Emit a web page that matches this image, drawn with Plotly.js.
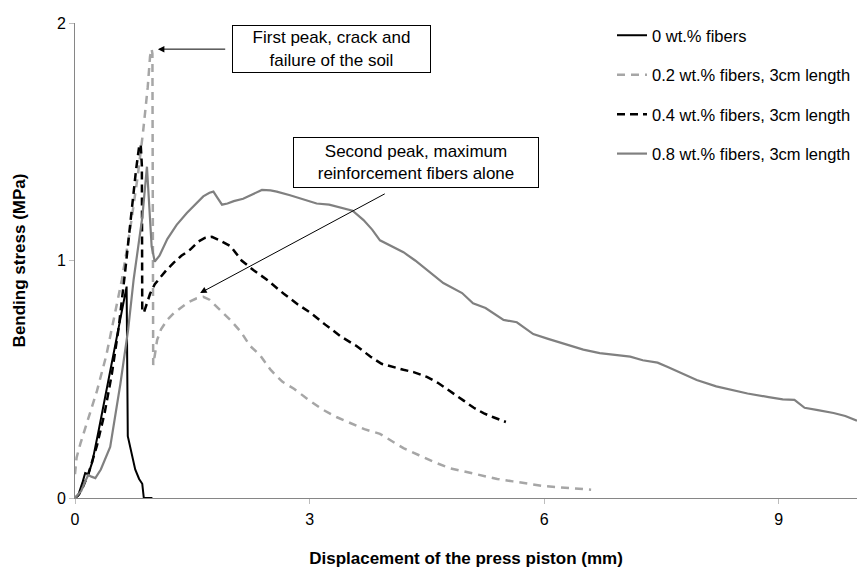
<!DOCTYPE html>
<html>
<head>
<meta charset="utf-8">
<script src="https://cdn.plot.ly/plotly-3.0.1.min.js"></script>
<style>html,body{margin:0;padding:0;background:#fff;}#chart{width:866px;height:569px;}</style>
</head>
<body>
<div id="chart"></div>
<script>
// ---- data ----
const seriesNames = ["0 wt.% fibers", "0.2 wt.% fibers, 3cm length", "0.4 wt.% fibers, 3cm length", "0.8 wt.% fibers, 3cm length"];

const x0 = [0, 0.04, 0.1, 0.13, 0.17, 0.22, 0.3, 0.4, 0.5, 0.6, 0.66, 0.675, 0.72, 0.77, 0.82, 0.86, 0.88, 0.99];
const y0 = [0, 0.01, 0.07, 0.105, 0.1, 0.15, 0.28, 0.45, 0.62, 0.79, 0.89, 0.26, 0.19, 0.12, 0.08, 0.06, 0, 0];

const x2 = [0, 0.02, 0.07, 0.15, 0.28, 0.4, 0.5, 0.6, 0.7, 0.8, 0.87, 0.93, 0.96, 0.98, 0.99, 1.0, 1.02, 1.05, 1.1, 1.18, 1.27, 1.35, 1.45, 1.55, 1.64, 1.72, 1.8, 1.9, 2.0, 2.12, 2.24, 2.37, 2.5, 2.65, 2.8, 3.0, 3.18, 3.35, 3.53, 3.7, 3.9, 4.05, 4.2, 4.4, 4.6, 4.8, 5.0, 5.2, 5.4, 5.6, 5.8, 6.0, 6.2, 6.4, 6.6];
const y2 = [0.1, 0.17, 0.23, 0.31, 0.45, 0.6, 0.76, 0.92, 1.12, 1.35, 1.54, 1.73, 1.86, 1.89, 1.87, 0.56, 0.6, 0.665, 0.71, 0.75, 0.78, 0.8, 0.825, 0.84, 0.847, 0.835, 0.81, 0.78, 0.745, 0.7, 0.64, 0.6, 0.54, 0.49, 0.46, 0.41, 0.37, 0.34, 0.316, 0.29, 0.27, 0.24, 0.21, 0.18, 0.15, 0.125, 0.11, 0.095, 0.08, 0.07, 0.06, 0.05, 0.045, 0.04, 0.035];

const x4 = [0, 0.05, 0.1, 0.17, 0.28, 0.38, 0.47, 0.56, 0.64, 0.72, 0.78, 0.82, 0.84, 0.855, 0.86, 0.88, 0.9, 0.96, 1.02, 1.09, 1.17, 1.26, 1.36, 1.47, 1.58, 1.66, 1.75, 1.85, 1.99, 2.13, 2.28, 2.45, 2.67, 2.85, 3.01, 3.2, 3.4, 3.6, 3.78, 3.92, 4.04, 4.2, 4.33, 4.5, 4.64, 4.8, 4.97, 5.1, 5.23, 5.35, 5.51];
const y4 = [0, 0.015, 0.045, 0.1, 0.22, 0.36, 0.52, 0.72, 0.95, 1.2, 1.38, 1.48, 1.49, 1.4, 0.79, 0.78, 0.8, 0.86, 0.9, 0.93, 0.96, 0.99, 1.02, 1.045, 1.08, 1.095, 1.1, 1.085, 1.06, 1.0, 0.96, 0.92, 0.86, 0.815, 0.78, 0.73, 0.68, 0.64, 0.595, 0.565, 0.553, 0.54, 0.53, 0.51, 0.485, 0.45, 0.41, 0.38, 0.356, 0.34, 0.32];

const x8 = [0, 0.08, 0.13, 0.17, 0.21, 0.26, 0.33, 0.45, 0.58, 0.68, 0.75, 0.86, 0.92, 0.95, 0.98, 1.02, 1.08, 1.18, 1.3, 1.43, 1.55, 1.64, 1.72, 1.77, 1.82, 1.88, 1.95, 2.03, 2.15, 2.27, 2.39, 2.5, 2.58, 2.75, 2.9, 3.09, 3.25, 3.43, 3.55, 3.69, 3.8, 3.9, 4.05, 4.2, 4.35, 4.5, 4.71, 4.95, 5.09, 5.25, 5.48, 5.65, 5.86, 6.05, 6.29, 6.5, 6.71, 6.9, 7.1, 7.26, 7.45, 7.58, 7.8, 7.95, 8.2, 8.41, 8.6, 8.87, 9.05, 9.2, 9.33, 9.5, 9.7, 9.85, 10.0];
const y8 = [0, 0.03, 0.07, 0.097, 0.09, 0.084, 0.12, 0.215, 0.48, 0.71, 0.92, 1.18, 1.395, 1.2, 1.06, 0.995, 1.02, 1.09, 1.15, 1.2, 1.24, 1.27, 1.285, 1.29, 1.265, 1.235, 1.24, 1.25, 1.26, 1.28, 1.297, 1.295, 1.29, 1.275, 1.26, 1.24, 1.235, 1.22, 1.21, 1.17, 1.13, 1.085, 1.06, 1.035, 1.0, 0.96, 0.905, 0.863, 0.82, 0.8, 0.75, 0.74, 0.69, 0.67, 0.645, 0.625, 0.61, 0.602, 0.595, 0.58, 0.57, 0.552, 0.52, 0.497, 0.47, 0.455, 0.44, 0.425, 0.415, 0.413, 0.38, 0.37, 0.358, 0.345, 0.325];

const xTicks = [0, 3, 6, 9];
const yTicks = [0, 1, 2];
const xTitle = "Displacement of the press piston (mm)";
const yTitle = "Bending stress (MPa)";
const note1 = "First peak, crack and<br>failure of the soil";
const note2 = "Second peak, maximum<br>reinforcement fibers alone";

// ---- chart ----
const FONT = "Arial, 'Liberation Sans', sans-serif";
const traces = [
  {x: x0, y: y0, name: seriesNames[0], legendgroup: "a", line: {color: "#000000", width: 2}},
  {x: x2, y: y2, name: seriesNames[1], legendgroup: "b", line: {color: "#a6a6a6", width: 2.5, dash: "8px,6px"}},
  {x: x4, y: y4, name: seriesNames[2], legendgroup: "c", line: {color: "#000000", width: 2.5, dash: "8px,5px"}},
  {x: x8, y: y8, name: seriesNames[3], legendgroup: "d", line: {color: "#808080", width: 2.2}}
].map(t => Object.assign({type: "scatter", mode: "lines", hoverinfo: "skip"}, t));

const axisCommon = {
  showgrid: false, zeroline: false, showline: true, linecolor: "#868686", linewidth: 1,
  ticks: "outside", ticklen: 5, tickcolor: "#bdbdbd", tickwidth: 1,
  tickfont: {family: FONT, size: 16, color: "#000"}
};

const layout = {
  width: 866, height: 569,
  margin: {l: 75, r: 9, t: 23, b: 71},
  paper_bgcolor: "#fff", plot_bgcolor: "#fff",
  font: {family: FONT, color: "#000"},
  showlegend: true,
  legend: {x: 0.6867, xanchor: "left", y: 1.0105, yanchor: "top",
           font: {family: FONT, size: 16.5, color: "#000"}, tracegroupgap: 15, bgcolor: "rgba(0,0,0,0)"},
  xaxis: Object.assign({}, axisCommon, {range: [0, 10], tickvals: xTicks, ticktext: xTicks.map(String), ticklabelstandoff: 2,
          title: {text: xTitle, font: {family: FONT, size: 17, weight: "bold"}, standoff: 24}}),
  yaxis: Object.assign({}, axisCommon, {range: [0, 2], tickvals: yTicks, ticktext: yTicks.map(String),
          title: {text: yTitle, font: {family: FONT, size: 17, weight: "bold"}, standoff: 26}}),
  annotations: [
    {xref: "x", yref: "y", x: 3.28, y: 1.89, text: note1, showarrow: false, font: {family: FONT, size: 17},
     bordercolor: "#000", borderwidth: 1, borderpad: 0, bgcolor: "#fff", width: 197, height: 46, align: "center"},
    {xref: "x", yref: "y", x: 4.36, y: 1.413, text: note2, showarrow: false, font: {family: FONT, size: 17},
     bordercolor: "#000", borderwidth: 1, borderpad: 0, bgcolor: "#fff", width: 244, height: 49, align: "center"},
    {xref: "x", yref: "y", x: 1.06, y: 1.89, axref: "x", ayref: "y", ax: 1.94, ay: 1.89, text: "", showarrow: true,
     arrowhead: 2, arrowsize: 1.3, arrowwidth: 1, arrowcolor: "#000"},
    {xref: "x", yref: "y", x: 1.60, y: 0.863, axref: "x", ayref: "y", ax: 3.98, ay: 1.284, text: "", showarrow: true,
     arrowhead: 2, arrowsize: 1.3, arrowwidth: 1, arrowcolor: "#000"}
  ]
};

Plotly.newPlot("chart", traces, layout, {displayModeBar: false, staticPlot: true});
</script>
</body>
</html>
